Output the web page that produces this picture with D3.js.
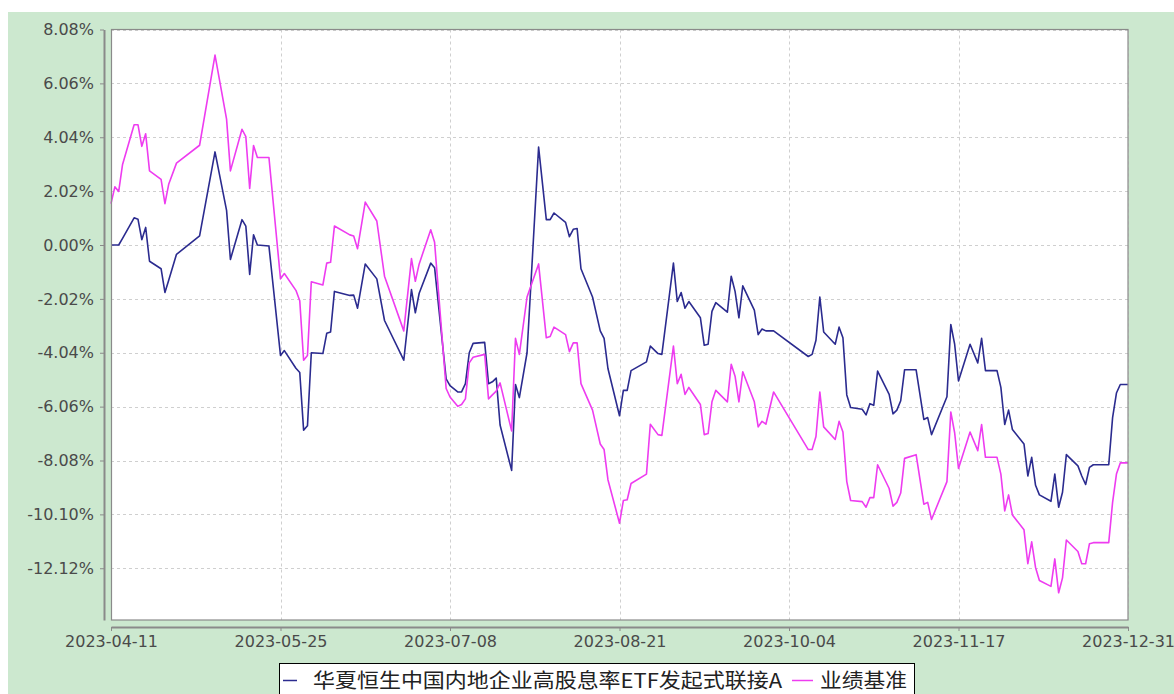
<!DOCTYPE html>
<html>
<head>
<meta charset="utf-8">
<script src="https://cdn.jsdelivr.net/npm/d3@7"></script>
<style>
  html, body { margin: 0; padding: 0; background: #fff; }
  svg { display: block; }
</style>
</head>
<body>
<div id="main"></div>
<script>
const dates = [
    '2023-04-11','2023-04-12','2023-04-13','2023-04-14','2023-04-17','2023-04-18','2023-04-19','2023-04-20',
    '2023-04-21','2023-04-24','2023-04-25','2023-04-26','2023-04-28','2023-05-04','2023-05-08','2023-05-11',
    '2023-05-12','2023-05-15','2023-05-16','2023-05-17','2023-05-18','2023-05-19','2023-05-22','2023-05-25',
    '2023-05-26','2023-05-29','2023-05-30','2023-05-31','2023-06-01','2023-06-02','2023-06-05','2023-06-06',
    '2023-06-07','2023-06-08','2023-06-12','2023-06-13','2023-06-14','2023-06-16','2023-06-19','2023-06-21',
    '2023-06-26','2023-06-28','2023-06-29','2023-06-30','2023-07-03','2023-07-04','2023-07-07','2023-07-08',
    '2023-07-10','2023-07-11','2023-07-12','2023-07-13','2023-07-14','2023-07-17','2023-07-18','2023-07-19',
    '2023-07-20','2023-07-21','2023-07-24','2023-07-25','2023-07-26','2023-07-28','2023-07-31','2023-08-02',
    '2023-08-03','2023-08-04','2023-08-07','2023-08-08','2023-08-09','2023-08-10','2023-08-11','2023-08-14',
    '2023-08-16','2023-08-17','2023-08-18','2023-08-21','2023-08-22','2023-08-23','2023-08-24','2023-08-28',
    '2023-08-29','2023-08-31','2023-09-01','2023-09-04','2023-09-05','2023-09-06','2023-09-07','2023-09-08',
    '2023-09-11','2023-09-12','2023-09-13','2023-09-14','2023-09-15','2023-09-18','2023-09-19','2023-09-20',
    '2023-09-21','2023-09-22','2023-09-25','2023-09-26','2023-09-27','2023-09-28','2023-09-30','2023-10-09',
    '2023-10-10','2023-10-11','2023-10-12','2023-10-13','2023-10-16','2023-10-17','2023-10-18','2023-10-19',
    '2023-10-20','2023-10-23','2023-10-24','2023-10-25','2023-10-26','2023-10-27','2023-10-30','2023-10-31',
    '2023-11-01','2023-11-02','2023-11-03','2023-11-06','2023-11-08','2023-11-09','2023-11-10','2023-11-14',
    '2023-11-15','2023-11-16','2023-11-17','2023-11-20','2023-11-22','2023-11-23','2023-11-24','2023-11-27',
    '2023-11-28','2023-11-29','2023-11-30','2023-12-01','2023-12-04','2023-12-05','2023-12-06','2023-12-07',
    '2023-12-08','2023-12-11','2023-12-12','2023-12-13','2023-12-14','2023-12-15','2023-12-18','2023-12-19',
    '2023-12-20','2023-12-21','2023-12-22','2023-12-26','2023-12-27','2023-12-28','2023-12-29','2023-12-31'
];

const fundValues = [
    0.00, 0.00, 0.00, 0.25, 1.02, 0.97, 0.20, 0.66,
    -0.61, -0.89, -1.78, -1.31, -0.35, 0.34, 3.49, 1.30,
    -0.54, 0.95, 0.71, -1.10, 0.38, 0.00, -0.04, -4.14,
    -3.96, -4.62, -4.78, -6.94, -6.78, -4.04, -4.07, -3.31,
    -3.26, -1.74, -1.89, -1.88, -2.37, -0.71, -1.27, -2.83,
    -4.32, -1.67, -2.54, -1.81, -0.68, -0.85, -5.02, -5.27,
    -5.51, -5.51, -5.20, -4.04, -3.69, -3.65, -5.20, -5.13,
    -4.99, -6.75, -8.45, -5.23, -5.72, -4.04, 3.67, 0.95,
    0.95, 1.20, 0.85, 0.31, 0.59, 0.62, -0.89, -1.95,
    -3.22, -3.50, -4.63, -6.40, -5.45, -5.45, -4.71, -4.38,
    -3.79, -4.07, -4.10, -0.68, -2.12, -1.78, -2.37, -2.12,
    -2.73, -3.76, -3.72, -2.49, -2.16, -2.52, -1.17, -1.74,
    -2.73, -1.53, -2.44, -3.36, -3.15, -3.22, -3.22, -4.18,
    -4.10, -3.57, -1.95, -3.26, -3.72, -3.08, -3.48, -5.62,
    -6.09, -6.16, -6.37, -5.95, -6.01, -4.73, -5.60, -6.33,
    -6.19, -5.84, -4.68, -4.68, -6.54, -6.47, -7.11, -5.69,
    -2.98, -3.72, -5.10, -3.72, -4.42, -3.50, -4.71, -4.71,
    -5.34, -6.73, -6.19, -6.92, -7.46, -8.66, -7.96, -9.01,
    -9.37, -9.61, -8.59, -9.83, -9.27, -7.86, -8.28, -8.66,
    -8.98, -8.34, -8.24, -8.24, -6.47, -5.55, -5.23, -5.23
];

const benchValues = [
    1.55, 2.18, 2.01, 3.02, 4.51, 4.51, 3.70, 4.17,
    2.78, 2.46, 1.55, 2.29, 3.07, 3.74, 7.12, 4.72,
    2.78, 4.34, 4.06, 2.12, 3.73, 3.28, 3.28, -1.27,
    -1.07, -1.70, -2.09, -4.32, -4.14, -1.38, -1.50, -0.68,
    -0.65, 0.71, 0.38, 0.34, -0.14, 1.61, 0.90, -1.17,
    -3.22, -0.51, -1.36, -0.71, 0.57, 0.10, -5.38, -5.70,
    -6.05, -5.98, -5.77, -4.42, -4.21, -4.10, -5.77, -5.62,
    -5.48, -5.17, -6.97, -3.50, -4.10, -1.95, -0.71, -3.48,
    -3.43, -3.08, -3.36, -4.00, -3.67, -3.67, -5.20, -6.19,
    -7.46, -7.67, -8.80, -10.43, -9.58, -9.55, -8.94, -8.59,
    -6.72, -7.11, -7.14, -3.79, -5.20, -4.85, -5.60, -5.34,
    -5.98, -7.11, -7.07, -5.88, -5.45, -5.88, -4.47, -4.92,
    -5.88, -4.75, -5.88, -6.82, -6.61, -6.72, -5.51, -7.67,
    -7.67, -7.18, -5.51, -6.82, -7.29, -6.61, -7.01, -8.87,
    -9.58, -9.62, -9.83, -9.47, -9.47, -8.24, -9.13, -9.79,
    -9.65, -9.30, -8.00, -7.86, -9.72, -9.65, -10.29, -8.87,
    -6.26, -7.04, -8.38, -7.01, -7.71, -6.73, -7.96, -7.96,
    -8.59, -9.97, -9.37, -10.12, -10.68, -11.95, -11.13, -12.09,
    -12.58, -12.80, -11.77, -13.04, -12.48, -11.06, -11.49, -11.95,
    -11.95, -11.20, -11.16, -11.16, -9.65, -8.59, -8.17, -8.17
];

const seriesNames = ['华夏恒生中国内地企业高股息率ETF发起式联接A', '业绩基准'];
const seriesColors = ['#2b2b8f', '#ee3cf0'];
const yTicks = [8.08, 6.06, 4.04, 2.02, 0.00, -2.02, -4.04, -6.06, -8.08, -10.10, -12.12];
const xTicks = ['2023-04-11', '2023-05-25', '2023-07-08', '2023-08-21', '2023-10-04', '2023-11-17', '2023-12-31'];

const width = 1174, height = 694;
const plot = { left: 111, right: 1128, top: 29.5, bottom: 620 };

const parse = d3.utcParse('%Y-%m-%d');
const fmt = d3.utcFormat('%Y-%m-%d');

const svg = d3.select('#main').append('svg').attr('width', width).attr('height', height);

const xScale = d3.scaleUtc()
    .domain([parse(xTicks[0]), parse(xTicks[xTicks.length - 1])])
    .range([plot.left, plot.right]);
const yScale = d3.scaleLinear().domain([-14.06, 8.08]).range([plot.bottom, plot.top]);

// green backdrop
svg.append('rect')
    .attr('x', 8).attr('y', 12)
    .attr('width', width - 8).attr('height', height - 12)
    .attr('fill', '#cce8cf');

// plot area
svg.append('rect')
    .attr('x', plot.left).attr('y', plot.top)
    .attr('width', plot.right - plot.left).attr('height', plot.bottom - plot.top)
    .attr('fill', '#fff');

// grid
const grid = svg.append('g')
    .attr('stroke', '#cfcfcf')
    .attr('stroke-width', 1)
    .attr('stroke-dasharray', '3,3');

grid.selectAll('.hgrid')
    .data(yTicks)
    .enter()
        .append('line')
            .attr('x1', plot.left).attr('x2', plot.right)
            .attr('y1', d => Math.round(yScale(d)) + 0.5)
            .attr('y2', d => Math.round(yScale(d)) + 0.5);

grid.selectAll('.vgrid')
    .data(xTicks)
    .enter()
        .append('line')
            .attr('y1', plot.top).attr('y2', plot.bottom)
            .attr('x1', d => Math.round(xScale(parse(d))) + 0.5)
            .attr('x2', d => Math.round(xScale(parse(d))) + 0.5);

// series lines
const series = [fundValues, benchValues];
const line = d3.line()
    .x(d => xScale(d.date))
    .y(d => yScale(d.value));

svg.append('g')
    .selectAll('path')
    .data(series)
    .enter()
        .append('path')
            .attr('d', vals => line(vals.map((v, i) => ({ date: parse(dates[i]), value: v }))))
            .attr('fill', 'none')
            .attr('stroke', (d, i) => seriesColors[i])
            .attr('stroke-width', 1.6)
            .attr('stroke-linejoin', 'round');

// plot outline
svg.append('rect')
    .attr('x', plot.left + 0.5).attr('y', plot.top)
    .attr('width', plot.right - plot.left - 0.5).attr('height', plot.bottom - plot.top)
    .attr('fill', 'none')
    .attr('stroke', '#8a8a8a')
    .attr('stroke-width', 1.2);

// axes
const yAxis = svg.append('g')
    .attr('transform', 'translate(104,0)')
    .call(d3.axisLeft(yScale)
        .tickValues(yTicks)
        .tickFormat(d => d.toFixed(2) + '%')
        .tickSize(4)
        .tickSizeOuter(0)
        .tickPadding(6));

const xAxis = svg.append('g')
    .attr('transform', 'translate(0,627)')
    .call(d3.axisBottom(xScale)
        .tickValues(xTicks.map(parse))
        .tickFormat(fmt)
        .tickSize(4)
        .tickSizeOuter(0)
        .tickPadding(5));

[yAxis, xAxis].forEach(ax => {
    ax.select('.domain').attr('stroke', '#8a8a8a').attr('stroke-width', 2);
    ax.selectAll('.tick line').attr('stroke', '#8a8a8a');
    ax.selectAll('.tick text')
        .style('font-family', '"DejaVu Sans", Verdana, sans-serif')
        .style('font-size', '16px')
        .attr('fill', '#4a4a4a');
});

// legend
const legend = svg.append('g');
legend.append('rect')
    .attr('x', 279.5).attr('y', 663.5)
    .attr('width', 635).attr('height', 40)
    .attr('fill', '#fff')
    .attr('stroke', '#000')
    .attr('stroke-width', 1);

const legendItems = [
    { lx1: 283, lx2: 297, tx: 313, tw: 469 },
    { lx1: 792, lx2: 813, tx: 820, tw: 87 }
];

legendItems.forEach((it, i) => {
    legend.append('line')
        .attr('x1', it.lx1).attr('x2', it.lx2)
        .attr('y1', 680.5).attr('y2', 680.5)
        .attr('stroke', seriesColors[i])
        .attr('stroke-width', 1.5);
    legend.append('text')
        .attr('x', it.tx).attr('y', 688)
        .attr('textLength', it.tw)
        .attr('lengthAdjust', 'spacingAndGlyphs')
        .style('font-family', '"Noto Sans CJK SC", sans-serif')
        .style('font-size', '20px')
        .attr('fill', '#222')
        .text(seriesNames[i]);
});
</script>
</body>
</html>
